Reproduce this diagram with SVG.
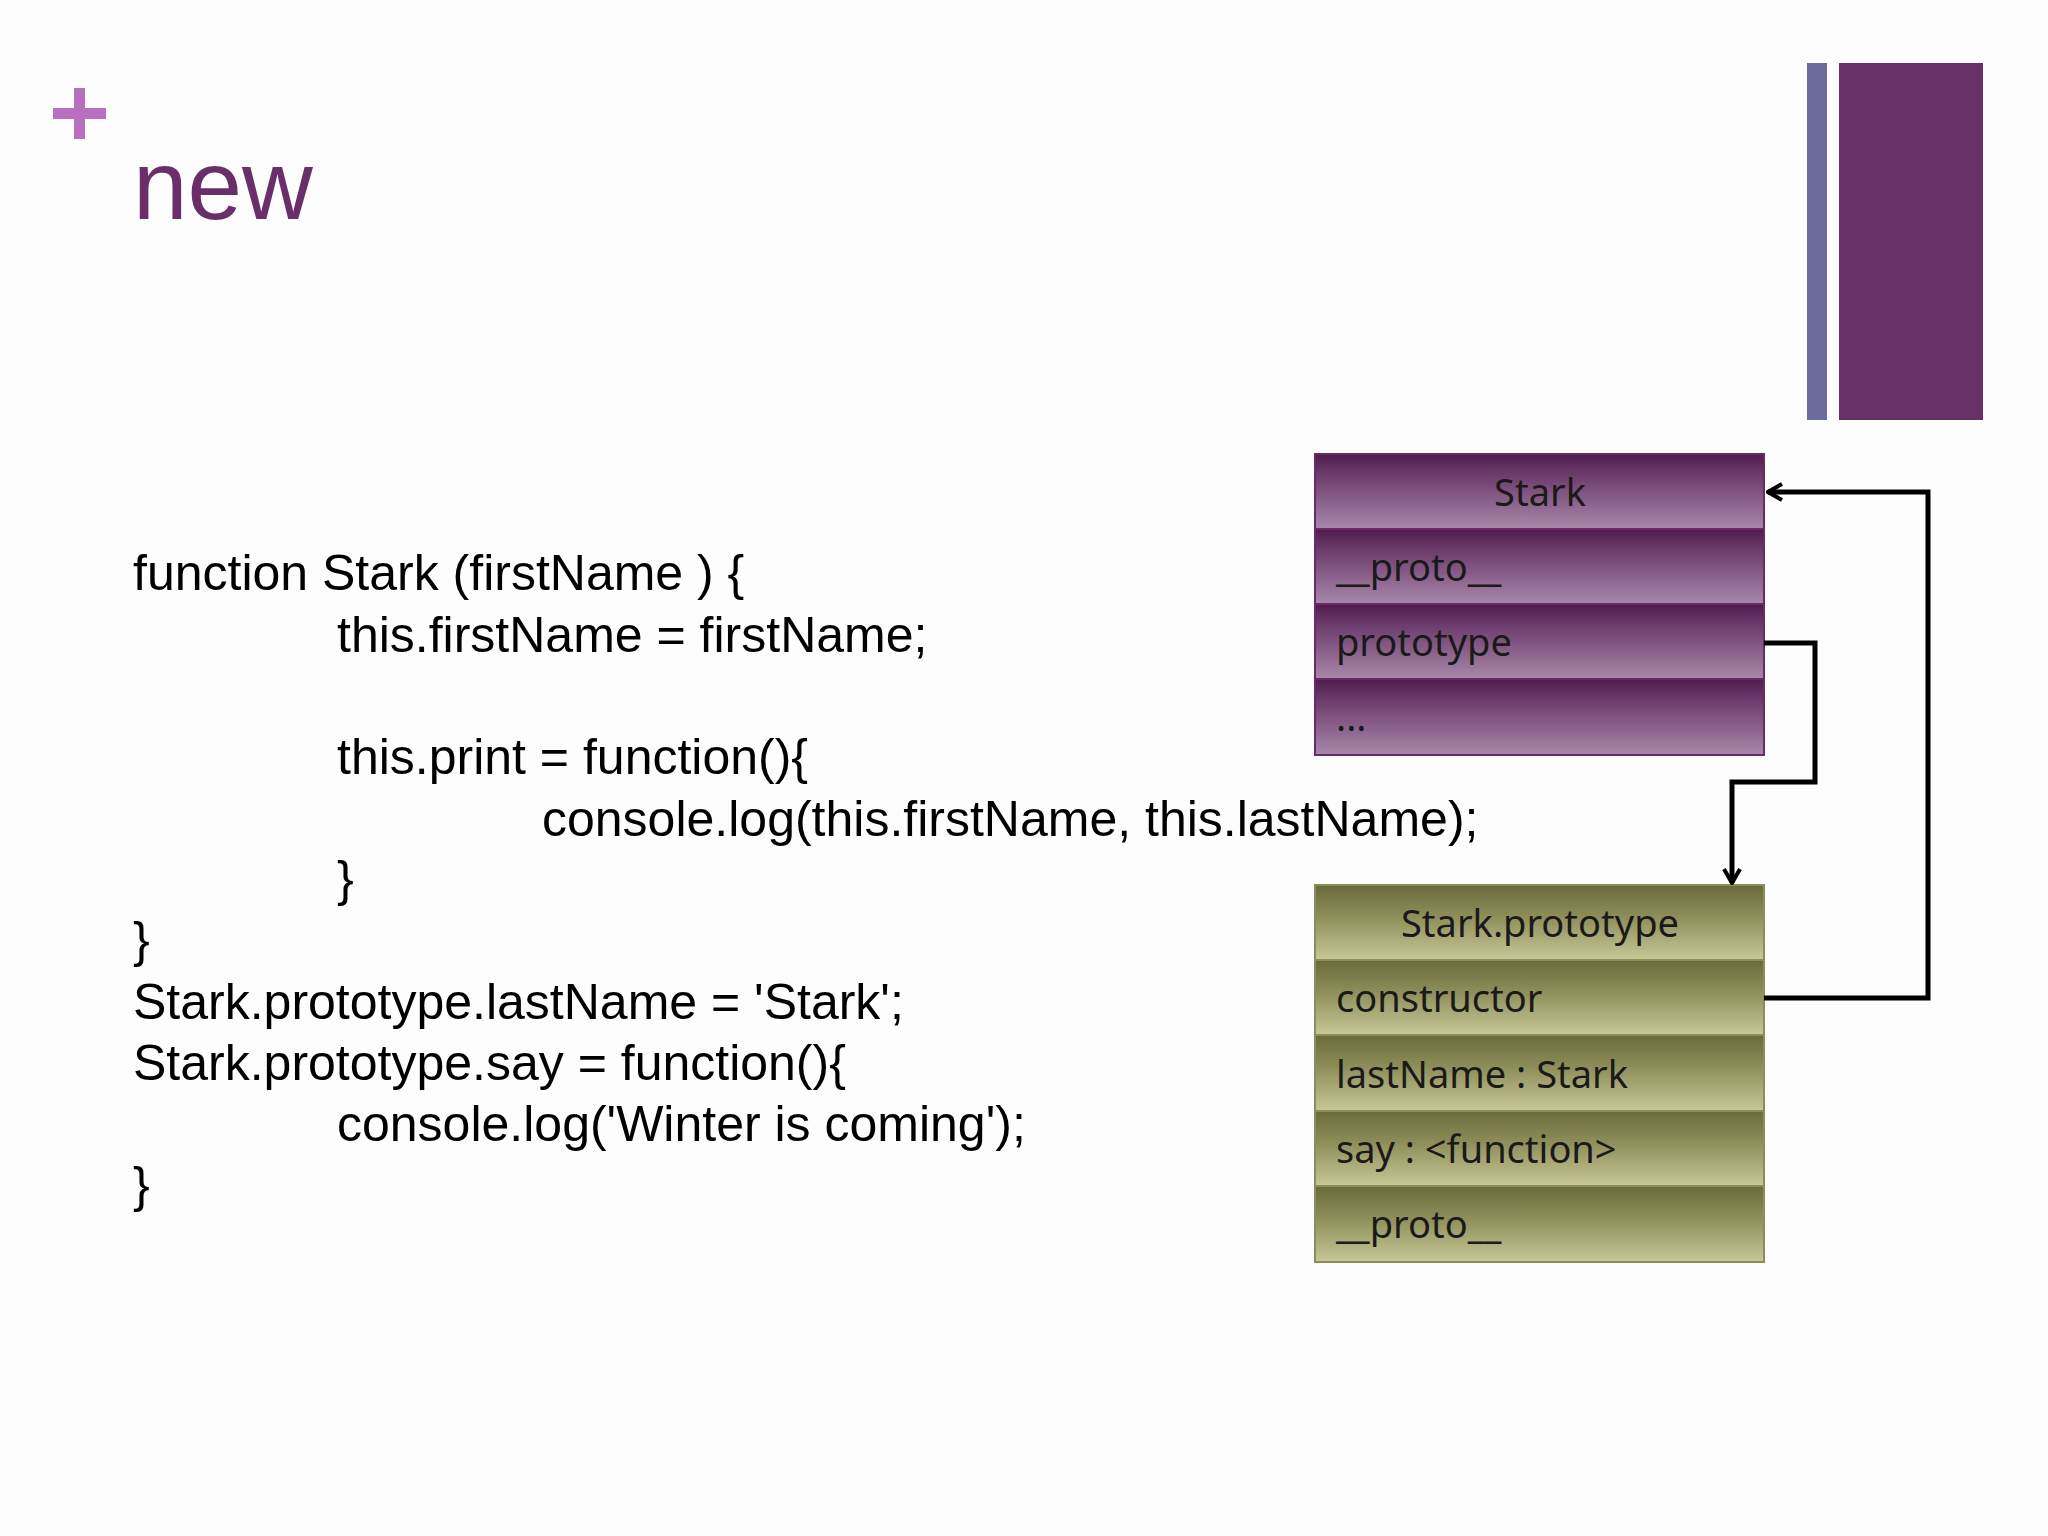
<svg xmlns="http://www.w3.org/2000/svg" width="2048" height="1536" viewBox="0 0 2048 1536">
<defs>
<linearGradient id="gp" x1="0" y1="0" x2="0" y2="1"><stop offset="0" stop-color="#4e1d4e"/><stop offset="0.3" stop-color="#6e3e6e"/><stop offset="1" stop-color="#a888aa"/></linearGradient>
<linearGradient id="go" x1="0" y1="0" x2="0" y2="1"><stop offset="0" stop-color="#6a6b3c"/><stop offset="0.4" stop-color="#8c8c58"/><stop offset="1" stop-color="#c8c898"/></linearGradient>
<marker id="ar" viewBox="0 0 20 20" refX="18" refY="10" markerWidth="20" markerHeight="20" markerUnits="userSpaceOnUse" orient="auto"><path d="M4 2 L18 10 L4 18" fill="none" stroke="#000" stroke-width="4"/></marker>
<style>
.code{font-family:"Liberation Sans",Arial,sans-serif;font-size:50px;fill:#000}
.bt{font-family:"Noto Sans","DejaVu Sans",sans-serif;font-size:38px;fill:#1a1a1a}
.rp{fill:url(#gp);stroke:#6a2a6a;stroke-width:2}
.ro{fill:url(#go);stroke:#8a8f5a;stroke-width:2}
.cn{fill:none;stroke:#000;stroke-width:5}
</style>
</defs>
<rect width="2048" height="1536" fill="#fdfdfd"/>
<g id="title">
<rect x="53" y="108" width="53" height="11" fill="#b86fc0"/><rect x="74" y="88" width="11" height="51" fill="#b86fc0"/>
<text x="133" y="219" font-family="'Liberation Sans',Arial,sans-serif" font-size="98" fill="#6a2f6a">new</text>
<rect x="1807" y="63" width="20" height="357" fill="#6b6b9e"/><rect x="1839" y="63" width="144" height="357" fill="#673066"/>
</g>
<g id="code">
<text class="code" x="133" y="590">function Stark (firstName ) {</text>
<text class="code" x="337" y="652">this.firstName = firstName;</text>
<text class="code" x="337" y="774">this.print = function(){</text>
<text class="code" x="542" y="836">console.log(this.firstName, this.lastName);</text>
<text class="code" x="337" y="896">}</text>
<text class="code" x="133" y="957">}</text>
<text class="code" x="133" y="1019">Stark.prototype.lastName = 'Stark';</text>
<text class="code" x="133" y="1080">Stark.prototype.say = function(){</text>
<text class="code" x="337" y="1141">console.log('Winter is coming');</text>
<text class="code" x="133" y="1202">}</text>
</g>
<g id="stark">
<rect class="rp" x="1315" y="454" width="449" height="75"/>
<rect class="rp" x="1315" y="529" width="449" height="75"/>
<rect class="rp" x="1315" y="604" width="449" height="75"/>
<rect class="rp" x="1315" y="679" width="449" height="76"/>
<text class="bt" x="1540" y="506" text-anchor="middle">Stark</text>
<text class="bt" x="1336" y="581">__proto__</text>
<text class="bt" x="1336" y="656">prototype</text>
<text class="bt" x="1336" y="731">...</text>
</g>
<g id="starkprototype">
<rect class="ro" x="1315" y="885" width="449" height="75"/>
<rect class="ro" x="1315" y="960" width="449" height="75"/>
<rect class="ro" x="1315" y="1035" width="449" height="76"/>
<rect class="ro" x="1315" y="1111" width="449" height="75"/>
<rect class="ro" x="1315" y="1186" width="449" height="76"/>
<text class="bt" x="1540" y="937" text-anchor="middle">Stark.prototype</text>
<text class="bt" x="1336" y="1012">constructor</text>
<text class="bt" x="1336" y="1088">lastName : Stark</text>
<text class="bt" x="1336" y="1163">say :  &lt;function&gt;</text>
<text class="bt" x="1336" y="1238">__proto__</text>
</g>
<g id="connectors">
<path class="cn" d="M1764 643 H1815 V782 H1732 V883" marker-end="url(#ar)"/>
<path class="cn" d="M1764 998 H1928 V492 H1768" marker-end="url(#ar)"/>
</g>
</svg>
